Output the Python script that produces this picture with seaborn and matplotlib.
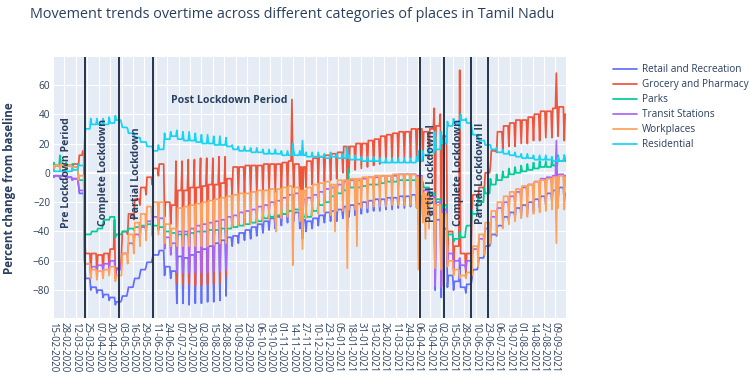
import matplotlib
matplotlib.use("Agg")
import matplotlib.pyplot as plt
import pandas as pd
import seaborn as sns

categories = ["Retail and Recreation", "Grocery and Pharmacy", "Parks",
              "Transit Stations", "Workplaces", "Residential"]
colors = ["#636EFA", "#EF553B", "#00CC96", "#AB63FA", "#FFA15A", "#19D3F3"]

start_date = "2020-02-15"
end_date = "2021-09-21"

# Weekly readings: Sunday value and Mon-Sat level, weeks starting Sunday 2020-02-16
retail_sun = [-3, -4, -4, -5, -8, -60, -80, -82, -85, -87,
              -90, -87, -81, -75, -69, -64, -59, -56, -70, -72,
              -89, -89, -90, -89, -89, -88, -88, -87, -84, -50,
              -48, -46, -45, -43, -41, -39, -38, -36, -34, -33,
              -38, -40, -38, -36, -34, -33, -33, -31, -30, -29,
              -28, -27, -26, -26, -25, -25, -24, -24, -23, -24,
              -30, -35, -80, -85, -78, -80, -60, -82, -72, -63,
              -56, -48, -43, -37, -34, -31, -30, -28, -26, -24,
              -22, -20, -18, -20]
retail_wd = [-2, -2, -3, -4, -14, -72, -78, -80, -83, -85,
             -88, -84, -78, -72, -66, -61, -56, -53, -64, -67,
             -57, -58, -56, -54, -52, -50, -48, -46, -44, -43,
             -41, -39, -37, -35, -33, -31, -30, -28, -26, -27,
             -32, -33, -31, -29, -27, -26, -25, -23, -22, -21,
             -20, -19, -18, -18, -17, -17, -16, -16, -15, -16,
             -22, -27, -32, -38, -70, -74, -78, -76, -66, -58,
             -50, -42, -36, -30, -27, -24, -22, -20, -18, -16,
             -14, -12, -10, -14]

grocery_sun = [2, 3, 2, 3, 5, -45, -68, -68, -68, -65,
               -72, -55, -42, -32, -22, -15, -8, -2, -30, -35,
               -75, -76, -76, -77, -77, -76, -76, -75, -70, -15,
               -15, -14, -14, -14, -13, -13, -13, -12, -12, -10,
               -15, -10, -8, -7, -6, -5, -4, 0, 0, 2,
               3, 4, 5, 6, 7, 8, 9, 10, 10, 10,
               8, 10, -75, -77, -55, -65, 70, -70, -25, -20,
               -12, 5, 14, 16, 18, 18, 20, 20, 22, 22,
               24, 24, 25, 22]
grocery_wd = [5, 6, 5, 6, 12, -55, -55, -56, -55, -52,
              -65, -40, -28, -18, -10, -3, 3, 6, -20, -22,
              -12, -12, -10, -10, -9, -8, -8, -7, -4, 4,
              4, 5, 5, 5, 6, 6, 6, 7, 8, 6,
              4, 8, 10, 11, 12, 13, 14, 18, 18, 20,
              20, 22, 23, 25, 26, 27, 28, 28, 30, 30,
              28, 30, 32, 25, -40, -50, -55, -55, -15, -10,
              0, 15, 28, 32, 34, 36, 36, 38, 40, 42,
              42, 44, 45, 40]

parks_sun = [7, 12, 7, 6, -2, -40, -42, -40, -34, -32,
             -44, -42, -40, -39, -38, -37, -38, -39, -42, -43,
             -48, -48, -48, -48, -48, -48, -47, -47, -46, -33,
             -32, -31, -30, -29, -27, -26, -25, -24, -22, -21,
             -26, -26, -22, -18, -16, -12, -10, -8, -6, -6,
             -5, -4, -4, -3, -2, -2, -1, -1, -1, -2,
             -6, -10, -45, -46, -44, -47, -40, -38, -26, -17,
             -10, -4, -1, 1, 3, 4, 5, 6, 7, 8,
             8, 9, 12, 12]
parks_wd = [5, 6, 5, 4, -5, -42, -40, -38, -32, -30,
            -42, -40, -38, -37, -36, -35, -36, -37, -40, -41,
            -42, -42, -41, -40, -40, -39, -39, -38, -38, -37,
            -36, -35, -34, -33, -31, -30, -29, -28, -26, -25,
            -30, -30, -26, -22, -20, -16, -14, -12, -10, -10,
            -9, -8, -8, -7, -6, -6, -5, -5, -5, -6,
            -10, -14, -18, -22, -42, -45, -44, -36, -28, -20,
            -14, -8, -5, -3, -1, 0, 1, 2, 3, 4,
            4, 5, 8, 8]

transit_sun = [-3, -3, -4, -5, -8, -60, -69, -68, -67, -65,
               -70, -62, -55, -50, -45, -41, -38, -39, -52, -56,
               -68, -68, -68, -68, -68, -68, -67, -67, -66, -37,
               -35, -34, -33, -31, -30, -28, -27, -25, -23, -22,
               -26, -25, -23, -21, -19, -18, -16, -14, -13, -13,
               -12, -11, -11, -10, -10, -10, -9, -9, -9, -10,
               -20, -24, -77, -78, -62, -66, -58, -66, -58, -52,
               -45, -38, -32, -28, -24, -21, -18, -16, -14, -12,
               -11, -10, -9, -10]
transit_wd = [-2, -2, -3, -4, -12, -62, -64, -63, -62, -60,
              -66, -55, -48, -42, -37, -33, -30, -31, -44, -48,
              -40, -40, -38, -36, -35, -34, -33, -32, -30, -29,
              -27, -26, -25, -23, -22, -20, -19, -17, -15, -14,
              -18, -17, -15, -13, -11, -10, -8, -6, -5, -5,
              -4, -3, -3, -2, -2, -2, -1, -1, -1, -2,
              -12, -16, -20, -25, -55, -60, -63, -60, -52, -45,
              -38, -30, -24, -20, -16, -13, -10, -8, -6, -4,
              -3, -2, -1, -2]

work_sun = [2, 3, 2, 1, -5, -60, -72, -73, -72, -70,
            -74, -70, -62, -55, -50, -46, -43, -42, -48, -50,
            -50, -50, -50, -50, -50, -50, -49, -48, -48, -37,
            -36, -36, -35, -34, -33, -32, -32, -31, -30, -30,
            -33, -31, -29, -28, -27, -29, -26, -26, -25, -25,
            -24, -24, -23, -23, -23, -22, -22, -22, -22, -24,
            -34, -38, -65, -66, -64, -70, -72, -72, -70, -64,
            -56, -48, -42, -38, -35, -33, -31, -30, -28, -27,
            -26, -25, -24, -25]
work_wd = [5, 6, 5, 4, -2, -62, -66, -67, -66, -64,
           -70, -55, -42, -34, -28, -23, -20, -20, -35, -38,
           -24, -23, -22, -21, -20, -19, -18, -17, -16, -15,
           -14, -14, -13, -12, -12, -11, -11, -10, -9, -10,
           -12, -10, -8, -7, -6, -8, -5, -5, -4, -4,
           -3, -3, -2, -2, -2, -1, -1, -1, -1, -3,
           -14, -18, -22, -28, -60, -66, -70, -68, -50, -42,
           -34, -26, -20, -16, -13, -11, -9, -8, -6, -5,
           -4, -3, -2, -3]

resid_sun = [2, 2, 2, 3, 6, 22, 37, 37, 37, 38,
             39, 34, 30, 27, 24, 21, 18, 19, 27, 28,
             29, 28, 28, 27, 26, 26, 25, 25, 24, 19,
             18, 18, 17, 17, 16, 16, 16, 15, 15, 15,
             15, 14, 14, 14, 13, 14, 13, 13, 12, 12,
             11, 11, 11, 10, 10, 10, 10, 10, 10, 11,
             15, 17, 28, 28, 35, 37, 30, 37, 29, 25,
             22, 19, 17, 16, 15, 14, 13, 13, 12, 12,
             12, 11, 11, 12]
resid_wd = [1, 1, 1, 2, 5, 30, 33, 33, 33, 34,
            36, 31, 27, 24, 21, 18, 15, 16, 23, 25,
            23, 22, 22, 21, 20, 20, 19, 19, 18, 16,
            15, 15, 14, 14, 13, 13, 13, 12, 12, 12,
            12, 11, 11, 11, 10, 11, 10, 10, 9, 9,
            8, 8, 8, 7, 7, 7, 7, 7, 7, 8,
            12, 14, 16, 20, 32, 34, 36, 34, 26, 22,
            19, 16, 14, 13, 12, 11, 10, 10, 9, 9,
            9, 8, 8, 9]

# single-day readings (holidays / special days)
retail_days = {"2020-11-25": -45, "2021-01-15": -40, "2021-04-06": -35}
grocery_days = {"2020-03-20": 15, "2020-04-25": -32, "2020-07-04": 8,
                "2020-07-11": 8, "2020-07-18": 9, "2020-07-25": 9,
                "2020-08-01": 10, "2020-08-08": 10, "2020-08-15": 10,
                "2020-08-22": 11, "2020-08-29": 11, "2020-11-13": 50,
                "2020-11-25": -40, "2021-01-15": -15, "2021-04-24": 44,
                "2021-05-01": 40, "2021-09-10": 68}
parks_days = {"2020-11-25": -45, "2021-01-16": 3, "2021-09-10": 12}
transit_days = {"2021-09-10": 22}
work_days = {"2020-10-26": -40, "2020-11-14": -63, "2020-11-25": -52,
             "2021-01-01": -40, "2021-01-15": -65, "2021-01-26": -50,
             "2021-04-06": -66, "2021-04-14": -45, "2021-09-10": -48}
resid_days = {"2020-11-14": 20, "2020-11-25": 22, "2021-01-15": 18,
              "2021-04-06": 15, "2021-05-24": 40}

phase_bounds = ["2020-03-22", "2020-04-30", "2020-06-08",
                "2021-04-08", "2021-05-05", "2021-06-05", "2021-06-24"]
phase_labels = ["Pre Lockdown Period", "Complete Lockdown", "Partial Lockdown",
                "Post Lockdown Period", "Partial Lockdown I", "Complete Lockdown",
                "Partial Lockdown II"]
phase_label_dates = ["2020-03-01", "2020-04-12", "2020-05-20", "2020-09-03",
                     "2021-04-21", "2021-05-22", "2021-06-16"]
phase_label_y = [0, 0, 0, 49, 0, 0, 0]
phase_label_rot = [90, 90, 90, 0, 90, 90, 90]

# ---- build long table ----
series = [(retail_sun, retail_wd, retail_days), (grocery_sun, grocery_wd, grocery_days),
          (parks_sun, parks_wd, parks_days), (transit_sun, transit_wd, transit_days),
          (work_sun, work_wd, work_days), (resid_sun, resid_wd, resid_days)]
dates = pd.date_range(start_date, end_date, freq="D")
rows = []
for cat, (sun, wd, days) in zip(categories, series):
    for i, d in enumerate(dates):
        if i == 0:
            v = wd[0]
        else:
            k = (i - 1) // 7
            v = sun[k] if (i - 1) % 7 == 0 else wd[k]
        v = days.get(d.strftime("%Y-%m-%d"), v)
        rows.append((d, cat, v))
df = pd.DataFrame(rows, columns=["date", "category", "value"])

# ---- style ----
sns.set_style("darkgrid", {"axes.facecolor": "#E5ECF6", "grid.color": "white"})
plt.rcParams["font.family"] = ["Open Sans", "DejaVu Sans"]
txt = "#2a3f5f"

fig = plt.figure(figsize=(7.5, 3.84), dpi=100)
ax = fig.add_axes([53 / 750, 1 - 318 / 384, 513 / 750, 261 / 384])

sns.lineplot(data=df, x="date", y="value", hue="category", hue_order=categories,
             palette=colors, linewidth=1.25, estimator=None, ax=ax)

ax.set_xlim(dates[0], dates[-1])
ax.set_ylim(-99, 79)
ax.set_yticks([-80, -60, -40, -20, 0, 20, 40, 60])
ticks = pd.date_range(start_date, "2021-09-09", freq="13D")
ax.set_xticks(ticks)
ax.set_xticklabels([t.strftime("%d-%m-%Y") for t in ticks], rotation=-90,
                   ha="center", va="top")
ax.tick_params(axis="both", length=0, labelsize=7.2, colors=txt)
ax.tick_params(axis="x", pad=3, labelsize=6.9)
ax.tick_params(axis="y", pad=2)
ax.grid(True, color="white", linewidth=0.8)
ax.axhline(0, color="white", linewidth=1.6, zorder=1)
for s in ax.spines.values():
    s.set_visible(False)
ax.set_xlabel("")
ax.set_ylabel("")

for b in phase_bounds:
    ax.axvline(pd.Timestamp(b), color="#263449", linewidth=1.4, zorder=10)
for lab, d, y, r in zip(phase_labels, phase_label_dates, phase_label_y, phase_label_rot):
    ax.text(pd.Timestamp(d), y, lab, rotation=r, ha="center", va="center",
            fontsize=7.6, fontweight="bold", color=txt, zorder=11)

handles, labels = ax.get_legend_handles_labels()
ax.legend(handles, labels, loc="upper left", bbox_to_anchor=(613 / 750, 1 - 64 / 384),
          bbox_transform=fig.transFigure, frameon=False, fontsize=7.2,
          handlelength=2.4, handletextpad=0.5, labelspacing=0.40,
          borderpad=0, borderaxespad=0, labelcolor=txt)

fig.text(30 / 750, 1 - 15 / 384, "Movement trends overtime across different categories of places in Tamil Nadu",
         ha="left", va="center", fontsize=10.35, color=txt)
fig.text(10 / 750, 1 - 188 / 384, "Percent change from baseline", rotation=90,
         ha="center", va="center", fontsize=8.4, fontweight="bold", color=txt)

fig.savefig("out.png", dpi=100)
